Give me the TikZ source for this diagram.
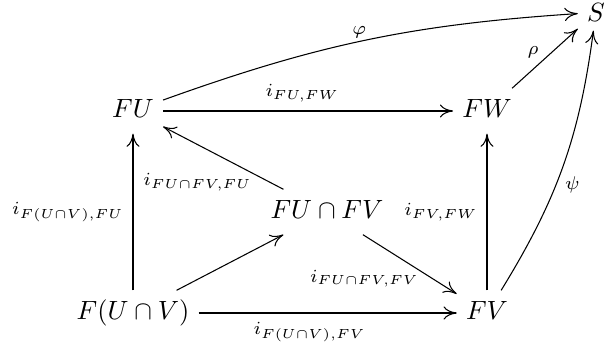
\documentclass[tikz,border=0pt]{standalone}
\usepackage{amsmath,amssymb}
\usepackage{tikz}
\usetikzlibrary{arrows.meta}

\begin{document}
\begin{tikzpicture}[>={Computer Modern Rightarrow[length=5pt,width=5pt]},
    obj/.style={text height=1.75ex,text depth=.6ex},
    lbl/.style={font=\scriptsize}]
    \useasboundingbox (0,0) rectangle (8.056,4.594);
    \node[obj] (FU) at (1.771,3.116) {$FU$};
    \node[obj] (FW) at (6.485,3.116) {$FW$};
    \node (S) at (7.936,4.43) {$S$};
    \node[obj] (FUFV) at (4.354,1.771) {$FU\cap FV$};
    \node[obj] (FUV) at (1.771,0.426) {$F(U\cap V)$};
    \node[obj] (FV) at (6.485,0.426) {$FV$};
    \draw[->] (FU) -- (FW) node[lbl,pos=0.48,above] {$i_{FU,FW}$};
    \draw[->] (FUV) -- (FU) node[lbl,midway,left] {$i_{F(U\cap V),FU}$};
    \draw[->] (FUV) -- (FUFV);
    \draw[->] (FUFV) -- (FU)
      node[lbl,pos=0.26,anchor=north east,inner sep=0pt] {$i_{FU\cap FV,FU}$};
    \draw[->] (FUFV) -- (FV)
      node[lbl,pos=0.63,anchor=north east,inner sep=1pt,yshift=2pt] {$i_{FU\cap FV,FV}$};
    \draw[->] (FUV) -- (FV) node[lbl,pos=0.43,below] {$i_{F(U\cap V),FV}$};
    \draw[->] (FV) -- (FW) node[lbl,midway,left] {$i_{FV,FW}$};
    \draw[->] (FU) to[bend left=8] node[lbl,pos=0.48,above,inner sep=1pt] {$\varphi$} (S);
    \draw[->] (FW) -- (S) node[lbl,pos=0.45,above left,inner sep=1pt] {$\rho$};
    \draw[->] (FV) to[bend right=12] node[lbl,pos=0.42,right] {$\psi$} (S);
\end{tikzpicture}
\end{document}
